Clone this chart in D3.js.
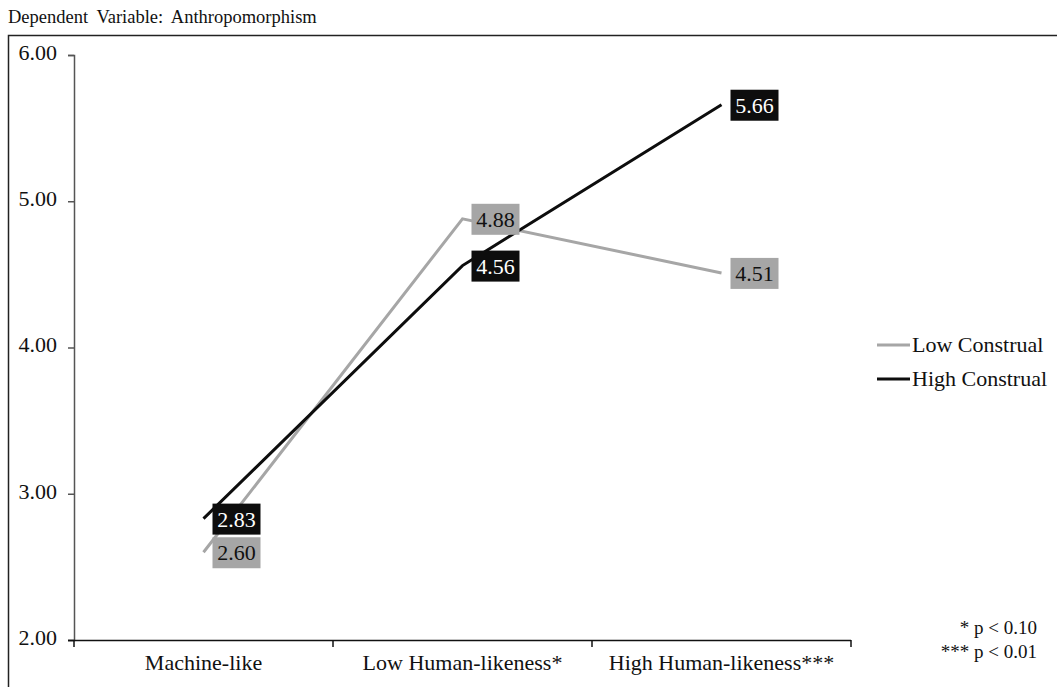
<!DOCTYPE html>
<html><head><meta charset="utf-8">
<script src="https://cdn.jsdelivr.net/npm/d3@7"></script>
<style>body{margin:0;background:#fff;} text{font-family:"Liberation Serif","Times New Roman",serif;}</style>
</head><body>
<svg id="c" width="1057" height="687"></svg>
<script>
const categories = ["Machine-like", "Low Human-likeness*", "High Human-likeness***"];
const lowConstrual = [2.60, 4.88, 4.51];
const highConstrual = [2.83, 4.56, 5.66];
const yTicks = [2, 3, 4, 5, 6];
const seriesNames = ["Low Construal", "High Construal"];
const footnotes = ["* p < 0.10", "*** p < 0.01"];

const svg = d3.select("#c");
const colors = {low: "#a6a6a6", high: "#0d0d0d"};

svg.append("rect").attr("x", 8.5).attr("y", 35.5).attr("width", 1100).attr("height", 700)
  .attr("fill", "none").attr("stroke", "#222").attr("stroke-width", 1.5);

svg.append("text").attr("x", 8).attr("y", 23).attr("font-size", 18.5).attr("fill", "#111")
  .attr("word-spacing", 4).text("Dependent Variable: Anthropomorphism");

const x = d3.scaleBand().domain(categories).range([74, 851]).paddingInner(0).paddingOuter(0);
const y = d3.scaleLinear().domain([2, 6]).range([640, 55]);
const cx = d => x(d) + x.bandwidth() / 2;

// y axis
const yAxis = svg.append("g").attr("transform", "translate(74,0)")
  .call(d3.axisLeft(y).tickValues(yTicks).tickFormat(d3.format(".2f")).tickSizeOuter(0).tickSize(6).tickPadding(11));
yAxis.select(".domain").attr("stroke", "#555").attr("stroke-width", 1.5);
yAxis.selectAll(".tick line").attr("stroke", "#555").attr("stroke-width", 1.5);
yAxis.selectAll(".tick text").attr("font-size", 22).attr("fill", "#111")
  .attr("font-family", "Liberation Serif").attr("dy", "0.2em");

// x axis
const xAxis = svg.append("g").attr("transform", "translate(0,640)")
  .call(d3.axisBottom(x).tickSize(0).tickPadding(17));
xAxis.select(".domain").remove();
svg.append("line").attr("x1", 68).attr("x2", 851).attr("y1", 640.5).attr("y2", 640.5)
  .attr("stroke", "#111").attr("stroke-width", 1.5);
const bounds = [74, ...categories.map(c => x(c) + x.bandwidth())];
svg.selectAll(".xt").data(bounds).enter().append("line")
  .attr("x1", d => d).attr("x2", d => d).attr("y1", 640).attr("y2", 647)
  .attr("stroke", "#111").attr("stroke-width", 1.5);
xAxis.selectAll(".tick text").attr("font-size", 22).attr("fill", "#111")
  .attr("font-family", "Liberation Serif").attr("dy", "0.6em");

// lines
const line = d3.line().x((d, i) => cx(categories[i])).y(d => y(d));
svg.append("path").datum(lowConstrual).attr("d", line).attr("fill", "none")
  .attr("stroke", colors.low).attr("stroke-width", 3);
svg.append("path").datum(highConstrual).attr("d", line).attr("fill", "none")
  .attr("stroke", colors.high).attr("stroke-width", 3);

// labels
function labels(vals, bg, fg) {
  const g = svg.append("g").selectAll("g").data(vals).enter().append("g")
    .attr("transform", (d, i) => `translate(${cx(categories[i]) + 9},${y(d)})`);
  g.append("rect").attr("x", 0).attr("y", -15).attr("width", 48).attr("height", 31).attr("fill", bg);
  g.append("text").attr("x", 24).attr("y", 0).attr("dy", "0.36em").attr("text-anchor", "middle")
    .attr("font-size", 22).attr("fill", fg).text(d => d.toFixed(2));
}
labels(lowConstrual, colors.low, "#111");
labels(highConstrual, colors.high, "#fff");

// legend
const leg = svg.append("g").selectAll("g").data(seriesNames).enter().append("g")
  .attr("transform", (d, i) => `translate(877,${345 + i * 34})`);
leg.append("line").attr("x1", 0).attr("x2", 33).attr("y1", 0).attr("y2", 0)
  .attr("stroke", (d, i) => i === 0 ? colors.low : colors.high).attr("stroke-width", 3);
leg.append("text").attr("x", 35).attr("y", 0).attr("dy", "0.33em").attr("font-size", 22)
  .attr("fill", "#111").text(d => d);

// footnotes
svg.append("g").selectAll("text").data(footnotes).enter().append("text")
  .attr("x", 1037).attr("y", (d, i) => 634 + i * 24).attr("text-anchor", "end")
  .attr("font-size", 19).attr("fill", "#111").text(d => d);
</script>
</body></html>
